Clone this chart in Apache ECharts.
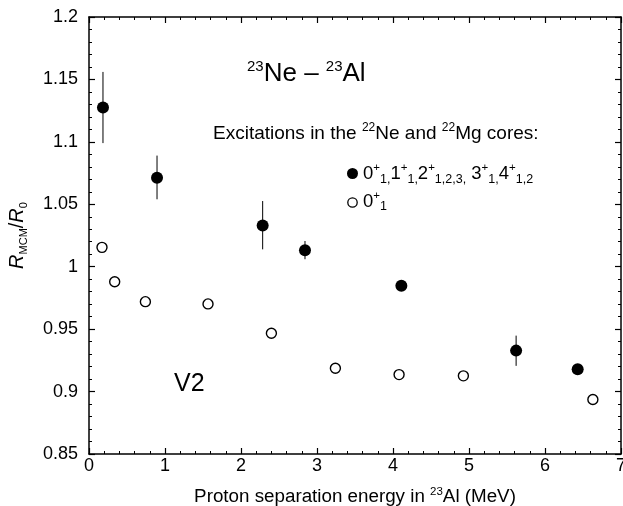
<!DOCTYPE html>
<html>
<head>
<meta charset="utf-8">
<script src="https://cdn.jsdelivr.net/npm/echarts@6/dist/echarts.min.js"></script>
<style>html,body{margin:0;padding:0;background:#fff}#c{width:623px;height:506px}</style>
</head>
<body>
<div id="c"></div>
<script>
// Data
var filledE = [0.184, 0.895, 2.285, 2.842, 4.11, 5.62, 6.43];
var filledR = [1.1275, 1.0712, 1.0331, 1.0131, 0.9848, 0.9328, 0.9179];
var errLo   = [1.099, 1.054, 1.0139, 1.006, null, 0.9206, null];
var errHi   = [1.156, 1.089, 1.0526, 1.0206, null, 0.9448, null];
var openE = [0.171, 0.338, 0.742, 1.566, 2.40, 3.242, 4.08, 4.926, 6.63];
var openR = [1.0155, 0.988, 0.972, 0.9702, 0.9467, 0.9187, 0.9136, 0.9126, 0.8936];
var xTicks = {min: 0, max: 7, interval: 1};
var yTicks = {min: 0.85, max: 1.2, interval: 0.05};

var FONT = '"Liberation Sans", Arial, Helvetica, sans-serif';
var filledData = filledE.map(function (e, i) { return [e, filledR[i]]; });
var openData = openE.map(function (e, i) { return [e, openR[i]]; });
var errData = [];
filledE.forEach(function (e, i) {
  if (errLo[i] != null && errHi[i] != null) errData.push([e, errLo[i], errHi[i]]);
});

function axisCommon(showLabel) {
  return {
    axisLine: {show: true, onZero: false, lineStyle: {color: '#000', width: 1.5}},
    axisTick: {show: true, inside: true, length: 6, lineStyle: {color: '#000', width: 1.2}},
    minorTick: {show: true, splitNumber: 5, length: 3, lineStyle: {color: '#000', width: 1}},
    splitLine: {show: false},
    minorSplitLine: {show: false},
    axisLabel: {show: showLabel, color: '#000', fontSize: 18, fontFamily: FONT}
  };
}

var chart = echarts.init(document.getElementById('c'), null, {renderer: 'canvas'});
var xa0 = Object.assign(axisCommon(true), {type: 'value', position: 'bottom', min: xTicks.min, max: xTicks.max, interval: xTicks.interval,
  name: '{n|Proton separation energy in }{sup|23}{n|Al (MeV)}', nameLocation: 'middle', nameGap: 32,
  nameTextStyle: {fontFamily: FONT, color: '#000', rich: {
    n: {fontSize: 18.8, fontFamily: FONT, color: '#000', lineHeight: 22},
    sup: {fontSize: 11.5, fontFamily: FONT, color: '#000', lineHeight: 11, verticalAlign: 'top'}
  }}});
xa0.axisLabel.margin = 3;
var xa1 = Object.assign(axisCommon(false), {type: 'value', position: 'top', min: xTicks.min, max: xTicks.max, interval: xTicks.interval});
var ya0 = Object.assign(axisCommon(true), {type: 'value', position: 'left', min: yTicks.min, max: yTicks.max, interval: yTicks.interval,
  name: '{i|R}{sub|MCM}{n|/}{i|R}{sub|0}', nameLocation: 'middle', nameGap: 60, nameRotate: 90,
  nameTextStyle: {fontFamily: FONT, color: '#000', rich: {
    i: {fontSize: 20, fontStyle: 'italic', fontFamily: FONT, color: '#000', lineHeight: 24},
    n: {fontSize: 20, fontFamily: FONT, color: '#000', lineHeight: 24},
    sub: {fontSize: 11, fontFamily: FONT, color: '#000', lineHeight: 11, verticalAlign: 'bottom'}
  }}});
ya0.axisLabel.margin = 11;
var ya1 = Object.assign(axisCommon(false), {type: 'value', position: 'right', min: yTicks.min, max: yTicks.max, interval: yTicks.interval});

var supRich = {
  m: {fontSize: 18.5, fontFamily: FONT, color: '#000', lineHeight: 24},
  sup: {fontSize: 11.5, fontFamily: FONT, color: '#000', lineHeight: 11, verticalAlign: 'top'},
  sub: {fontSize: 12.5, fontFamily: FONT, color: '#000', lineHeight: 12, verticalAlign: 'bottom'}
};

chart.setOption({
  animation: false,
  backgroundColor: '#fff',
  grid: {left: 89, right: 2, top: 17, bottom: 52, outerBoundsMode: 'none', containLabel: false},
  xAxis: [xa0, xa1],
  yAxis: [ya0, ya1],
  series: [
    {
      type: 'custom', name: 'error', xAxisIndex: 0, yAxisIndex: 0, data: errData, z: 1,
      encode: {x: 0, y: [1, 2]},
      renderItem: function (params, api) {
        var p1 = api.coord([api.value(0), api.value(1)]);
        var p2 = api.coord([api.value(0), api.value(2)]);
        return {type: 'line', shape: {x1: p1[0], y1: p1[1], x2: p2[0], y2: p2[1]},
          style: {stroke: '#000', lineWidth: 1}};
      }
    },
    {
      type: 'scatter', name: 'all', data: filledData, symbol: 'circle', symbolSize: 12, z: 3,
      itemStyle: {color: '#000', opacity: 1}
    },
    {
      type: 'scatter', name: 'ground', data: openData, symbol: 'circle', symbolSize: 10, z: 3,
      itemStyle: {color: '#fff', borderColor: '#000', borderWidth: 1.4, opacity: 1}
    }
  ],
  graphic: [
    {type: 'text', left: 247, top: 59, style: {
      text: '{sup|23}{m|Ne – }{sup|23}{m|Al}', rich: {
        m: {fontSize: 26, fontFamily: FONT, color: '#000', lineHeight: 30},
        sup: {fontSize: 15, fontFamily: FONT, color: '#000', lineHeight: 15, verticalAlign: 'top'}
      }}},
    {type: 'text', left: 213, top: 122, style: {
      text: '{m|Excitations in the }{sup|22}{m|Ne and }{sup|22}{m|Mg cores:}', rich: {
        m: {fontSize: 19, fontFamily: FONT, color: '#000', lineHeight: 24},
        sup: {fontSize: 12, fontFamily: FONT, color: '#000', lineHeight: 12, verticalAlign: 'top'}
      }}},
    {type: 'circle', shape: {cx: 352.5, cy: 173.5, r: 5.5}, style: {fill: '#000'}},
    {type: 'circle', shape: {cx: 352.5, cy: 202.5, r: 4.7}, style: {fill: '#fff', stroke: '#000', lineWidth: 1.3}},
    {type: 'text', left: 363, top: 162, style: {
      text: '{m|0}{sup|+}{sub|1,}{m|1}{sup|+}{sub|1,}{m|2}{sup|+}{sub|1,2,3,}{m| 3}{sup|+}{sub|1,}{m|4}{sup|+}{sub|1,2}',
      rich: supRich}},
    {type: 'text', left: 363, top: 189.5, style: {
      text: '{m|0}{sup|+}{sub|1}', rich: supRich}},
    {type: 'text', left: 174, top: 372, style: {
      text: 'V2', fontSize: 25, fontFamily: FONT, fill: '#000'}}
  ]
});
</script>
</body>
</html>
